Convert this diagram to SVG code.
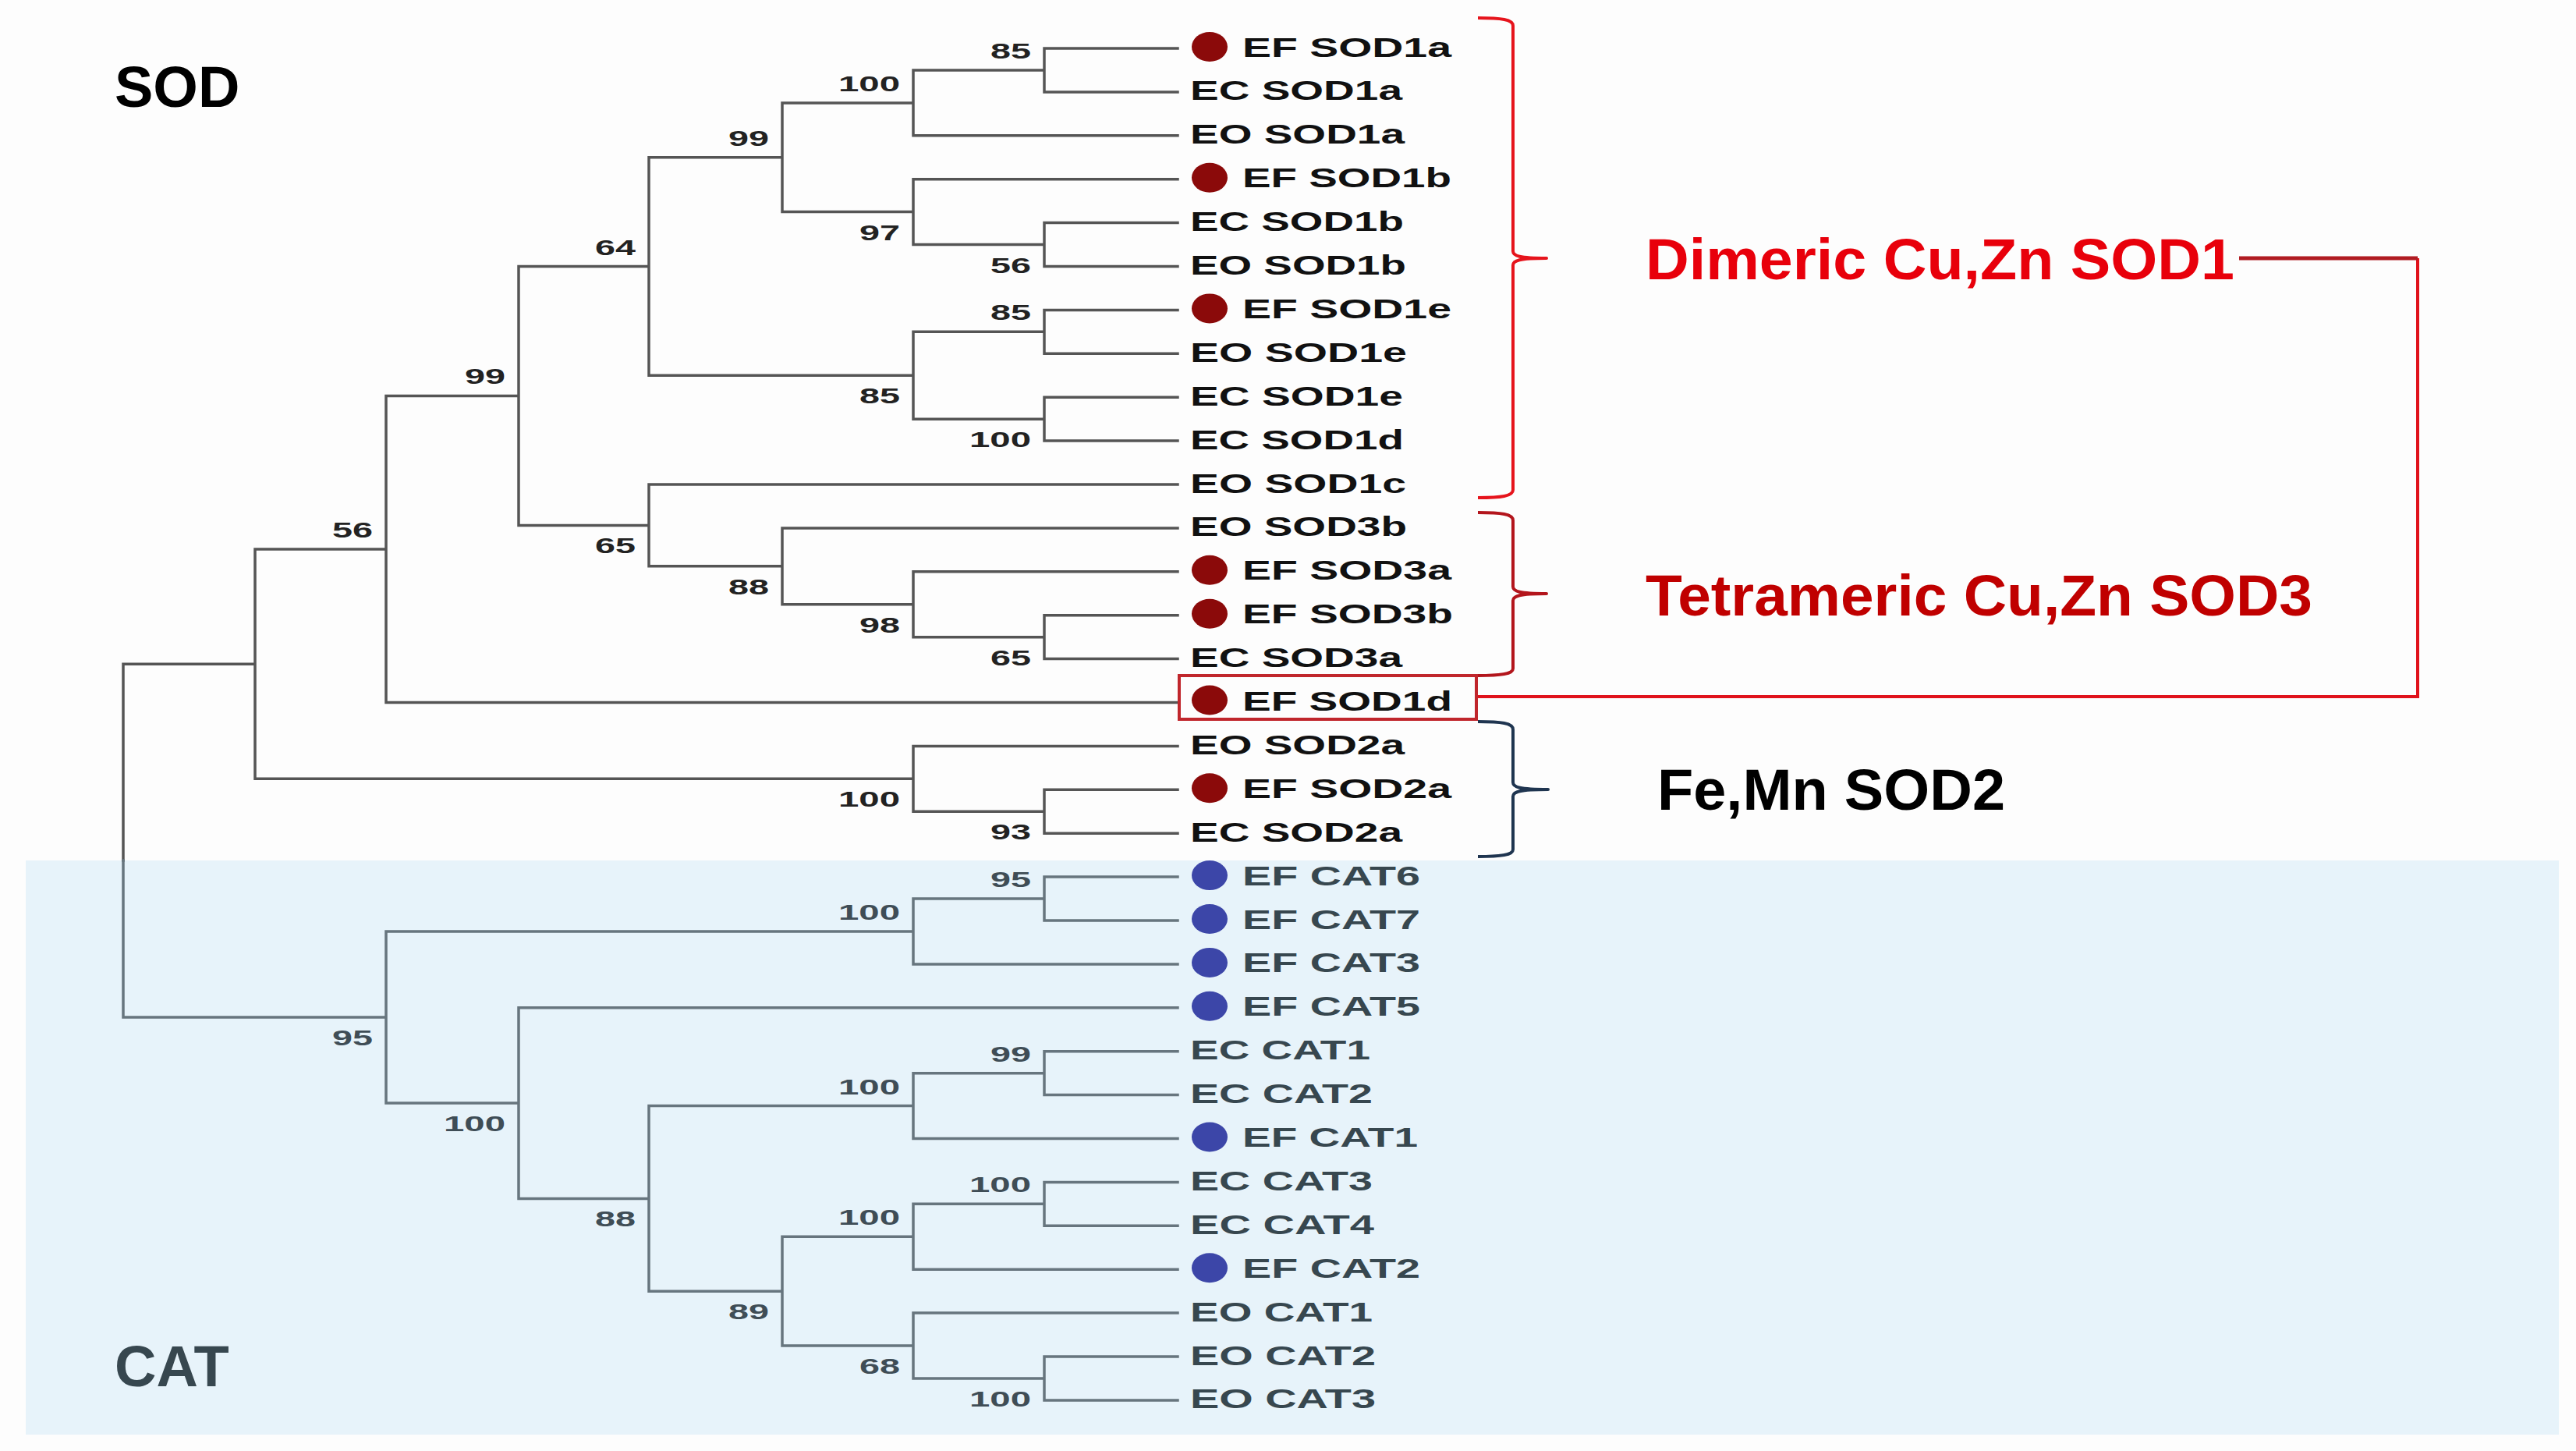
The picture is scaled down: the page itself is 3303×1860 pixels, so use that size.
<svg xmlns="http://www.w3.org/2000/svg" width="3303" height="1860" viewBox="0 0 3303 1860">
<style>
.br{fill:none;stroke:#555;stroke-width:3.5;stroke-linecap:square}
.brc{stroke:#67757e}
.lf{font-family:"Liberation Sans",Arial,sans-serif;font-weight:bold;font-size:35px;fill:#111}
.lfc{fill:#37474f}
.bs{font-family:"Liberation Sans",Arial,sans-serif;font-weight:bold;font-size:28px;fill:#222;text-anchor:end}
.bsc{fill:#3f4d56}
.dr{fill:#8b0a0a}
.db{fill:#3c46a8}
.big{font-family:"Liberation Sans",Arial,sans-serif;font-weight:bold;font-size:74px}
.brace{fill:none;stroke-width:4;stroke-linejoin:round}
</style>
<rect x="0" y="0" width="3303" height="1860" fill="#fdfdfd"/>
<rect id="cat-bg" x="33" y="1103" width="3248" height="736" fill="#e7f3fa"/>

<g id="connectors">
<path class="br" d="M1339,62V117.9M1339,62H1510M1339,117.9H1510
M1171,90V173.8M1171,90H1339M1171,173.8H1510
M1339,285.6V341.5M1339,285.6H1510M1339,341.5H1510
M1171,229.7V313.55M1171,229.7H1510M1171,313.55H1339
M1003,131.9V271.6M1003,131.9H1171M1003,271.6H1171
M1339,397.4V453.3M1339,397.4H1510M1339,453.3H1510
M1339,509.2V565.1M1339,509.2H1510M1339,565.1H1510
M1171,425.35V537.15M1171,425.35H1339M1171,537.15H1339
M832,201.8V481.25M832,201.8H1003M832,481.25H1171
M1339,788.7V844.6M1339,788.7H1510M1339,844.6H1510
M1171,732.8V816.65M1171,732.8H1510M1171,816.65H1339
M1003,676.9V774.7M1003,676.9H1510M1003,774.7H1171
M832,621V725.8M832,621H1510M832,725.8H1003
M665,341.5V673.4M665,341.5H832M665,673.4H832
M495,507.45V900.5M495,507.45H665M495,900.5H1510
M1339,1012.3V1068.2M1339,1012.3H1510M1339,1068.2H1510
M1171,956.4V1040.25M1171,956.4H1510M1171,1040.25H1339
M327,704V998.3M327,704H495M327,998.3H1171
M158,851.2V1103M158,851.2H327"/>
<path class="br brc" d="M158,1103V1304.05H495
M1339,1124.1V1180M1339,1124.1H1510M1339,1180H1510
M1171,1152.05V1235.9M1171,1152.05H1339M1171,1235.9H1510
M1339,1347.7V1403.6M1339,1347.7H1510M1339,1403.6H1510
M1171,1375.65V1459.5M1171,1375.65H1339M1171,1459.5H1510
M1339,1515.4V1571.3M1339,1515.4H1510M1339,1571.3H1510
M1171,1543.35V1627.2M1171,1543.35H1339M1171,1627.2H1510
M1339,1739V1794.9M1339,1739H1510M1339,1794.9H1510
M1171,1683.1V1766.95M1171,1683.1H1510M1171,1766.95H1339
M1003,1585.3V1725M1003,1585.3H1171M1003,1725H1171
M832,1417.6V1655.15M832,1417.6H1171M832,1655.15H1003
M665,1291.8V1536.4M665,1291.8H1510M665,1536.4H832
M495,1194V1414.1M495,1194H1171M495,1414.1H665"/>
<path d="M1893,893H3100V331" fill="none" stroke="#e0121b" stroke-width="4"/>
<path d="M2871,331H3100" fill="none" stroke="#b01c22" stroke-width="5"/>
</g>

<g id="bootstrap">
<text class="bs" x="1322" y="75" textLength="52" lengthAdjust="spacingAndGlyphs">85</text>
<text class="bs" x="1154" y="116.9" textLength="79" lengthAdjust="spacingAndGlyphs">100</text>
<text class="bs" x="1322" y="349.55" textLength="52" lengthAdjust="spacingAndGlyphs">56</text>
<text class="bs" x="1154" y="307.6" textLength="52" lengthAdjust="spacingAndGlyphs">97</text>
<text class="bs" x="986" y="186.8" textLength="52" lengthAdjust="spacingAndGlyphs">99</text>
<text class="bs" x="1322" y="410.35" textLength="52" lengthAdjust="spacingAndGlyphs">85</text>
<text class="bs" x="1322" y="573.15" textLength="79" lengthAdjust="spacingAndGlyphs">100</text>
<text class="bs" x="1154" y="517.25" textLength="52" lengthAdjust="spacingAndGlyphs">85</text>
<text class="bs" x="815" y="326.5" textLength="52" lengthAdjust="spacingAndGlyphs">64</text>
<text class="bs" x="1322" y="852.65" textLength="52" lengthAdjust="spacingAndGlyphs">65</text>
<text class="bs" x="1154" y="810.7" textLength="52" lengthAdjust="spacingAndGlyphs">98</text>
<text class="bs" x="986" y="761.8" textLength="52" lengthAdjust="spacingAndGlyphs">88</text>
<text class="bs" x="815" y="709.4" textLength="52" lengthAdjust="spacingAndGlyphs">65</text>
<text class="bs" x="648" y="492.45" textLength="52" lengthAdjust="spacingAndGlyphs">99</text>
<text class="bs" x="478" y="689" textLength="52" lengthAdjust="spacingAndGlyphs">56</text>
<text class="bs" x="1322" y="1076.25" textLength="52" lengthAdjust="spacingAndGlyphs">93</text>
<text class="bs" x="1154" y="1034.3" textLength="79" lengthAdjust="spacingAndGlyphs">100</text>
<text class="bs bsc" x="1322" y="1137.05" textLength="52" lengthAdjust="spacingAndGlyphs">95</text>
<text class="bs bsc" x="1154" y="1179" textLength="79" lengthAdjust="spacingAndGlyphs">100</text>
<text class="bs bsc" x="1322" y="1360.65" textLength="52" lengthAdjust="spacingAndGlyphs">99</text>
<text class="bs bsc" x="1154" y="1402.6" textLength="79" lengthAdjust="spacingAndGlyphs">100</text>
<text class="bs bsc" x="1322" y="1528.35" textLength="79" lengthAdjust="spacingAndGlyphs">100</text>
<text class="bs bsc" x="1154" y="1570.3" textLength="79" lengthAdjust="spacingAndGlyphs">100</text>
<text class="bs bsc" x="1322" y="1802.95" textLength="79" lengthAdjust="spacingAndGlyphs">100</text>
<text class="bs bsc" x="1154" y="1761" textLength="52" lengthAdjust="spacingAndGlyphs">68</text>
<text class="bs bsc" x="986" y="1691.15" textLength="52" lengthAdjust="spacingAndGlyphs">89</text>
<text class="bs bsc" x="815" y="1572.4" textLength="52" lengthAdjust="spacingAndGlyphs">88</text>
<text class="bs bsc" x="648" y="1450.1" textLength="79" lengthAdjust="spacingAndGlyphs">100</text>
<text class="bs bsc" x="478" y="1340.05" textLength="52" lengthAdjust="spacingAndGlyphs">95</text>
</g>

<g id="leaf-EF-SOD1a"><ellipse class="dr" cx="1551" cy="60" rx="23" ry="19"/><text class="lf" x="1593" y="72.5" textLength="268" lengthAdjust="spacingAndGlyphs">EF SOD1a</text></g>
<g id="leaf-EC-SOD1a"><text class="lf" x="1526" y="128.4" textLength="272" lengthAdjust="spacingAndGlyphs">EC SOD1a</text></g>
<g id="leaf-EO-SOD1a"><text class="lf" x="1526" y="184.3" textLength="275" lengthAdjust="spacingAndGlyphs">EO SOD1a</text></g>
<g id="leaf-EF-SOD1b"><ellipse class="dr" cx="1551" cy="227.7" rx="23" ry="19"/><text class="lf" x="1593" y="240.2" textLength="268" lengthAdjust="spacingAndGlyphs">EF SOD1b</text></g>
<g id="leaf-EC-SOD1b"><text class="lf" x="1526" y="296.1" textLength="274" lengthAdjust="spacingAndGlyphs">EC SOD1b</text></g>
<g id="leaf-EO-SOD1b"><text class="lf" x="1526" y="352" textLength="277" lengthAdjust="spacingAndGlyphs">EO SOD1b</text></g>
<g id="leaf-EF-SOD1e"><ellipse class="dr" cx="1551" cy="395.4" rx="23" ry="19"/><text class="lf" x="1593" y="407.9" textLength="268" lengthAdjust="spacingAndGlyphs">EF SOD1e</text></g>
<g id="leaf-EO-SOD1e"><text class="lf" x="1526" y="463.8" textLength="278" lengthAdjust="spacingAndGlyphs">EO SOD1e</text></g>
<g id="leaf-EC-SOD1e"><text class="lf" x="1526" y="519.7" textLength="273" lengthAdjust="spacingAndGlyphs">EC SOD1e</text></g>
<g id="leaf-EC-SOD1d"><text class="lf" x="1526" y="575.6" textLength="274" lengthAdjust="spacingAndGlyphs">EC SOD1d</text></g>
<g id="leaf-EO-SOD1c"><text class="lf" x="1526" y="631.5" textLength="277" lengthAdjust="spacingAndGlyphs">EO SOD1c</text></g>
<g id="leaf-EO-SOD3b"><text class="lf" x="1526" y="687.4" textLength="278" lengthAdjust="spacingAndGlyphs">EO SOD3b</text></g>
<g id="leaf-EF-SOD3a"><ellipse class="dr" cx="1551" cy="730.8" rx="23" ry="19"/><text class="lf" x="1593" y="743.3" textLength="268" lengthAdjust="spacingAndGlyphs">EF SOD3a</text></g>
<g id="leaf-EF-SOD3b"><ellipse class="dr" cx="1551" cy="786.7" rx="23" ry="19"/><text class="lf" x="1593" y="799.2" textLength="270" lengthAdjust="spacingAndGlyphs">EF SOD3b</text></g>
<g id="leaf-EC-SOD3a"><text class="lf" x="1526" y="855.1" textLength="272" lengthAdjust="spacingAndGlyphs">EC SOD3a</text></g>
<g id="leaf-EF-SOD1d"><rect x="1512" y="866" width="381" height="56" fill="none" stroke="#c0262c" stroke-width="4"/><ellipse class="dr" cx="1551" cy="897.5" rx="23" ry="19"/><text class="lf" x="1593" y="911" textLength="269" lengthAdjust="spacingAndGlyphs">EF SOD1d</text></g>
<g id="leaf-EO-SOD2a"><text class="lf" x="1526" y="966.9" textLength="275" lengthAdjust="spacingAndGlyphs">EO SOD2a</text></g>
<g id="leaf-EF-SOD2a"><ellipse class="dr" cx="1551" cy="1010.3" rx="23" ry="19"/><text class="lf" x="1593" y="1022.8" textLength="268" lengthAdjust="spacingAndGlyphs">EF SOD2a</text></g>
<g id="leaf-EC-SOD2a"><text class="lf" x="1526" y="1078.7" textLength="272" lengthAdjust="spacingAndGlyphs">EC SOD2a</text></g>

<g id="leaf-EF-CAT6"><ellipse class="db" cx="1551" cy="1122.1" rx="23" ry="19"/><text class="lf lfc" x="1593" y="1134.6" textLength="228" lengthAdjust="spacingAndGlyphs">EF CAT6</text></g>
<g id="leaf-EF-CAT7"><ellipse class="db" cx="1551" cy="1178" rx="23" ry="19"/><text class="lf lfc" x="1593" y="1190.5" textLength="228" lengthAdjust="spacingAndGlyphs">EF CAT7</text></g>
<g id="leaf-EF-CAT3"><ellipse class="db" cx="1551" cy="1233.9" rx="23" ry="19"/><text class="lf lfc" x="1593" y="1246.4" textLength="228" lengthAdjust="spacingAndGlyphs">EF CAT3</text></g>
<g id="leaf-EF-CAT5"><ellipse class="db" cx="1551" cy="1289.8" rx="23" ry="19"/><text class="lf lfc" x="1593" y="1302.3" textLength="228" lengthAdjust="spacingAndGlyphs">EF CAT5</text></g>
<g id="leaf-EC-CAT1"><text class="lf lfc" x="1526" y="1358.2" textLength="231" lengthAdjust="spacingAndGlyphs">EC CAT1</text></g>
<g id="leaf-EC-CAT2"><text class="lf lfc" x="1526" y="1414.1" textLength="234" lengthAdjust="spacingAndGlyphs">EC CAT2</text></g>
<g id="leaf-EF-CAT1"><ellipse class="db" cx="1551" cy="1457.5" rx="23" ry="19"/><text class="lf lfc" x="1593" y="1470" textLength="225" lengthAdjust="spacingAndGlyphs">EF CAT1</text></g>
<g id="leaf-EC-CAT3"><text class="lf lfc" x="1526" y="1525.9" textLength="234" lengthAdjust="spacingAndGlyphs">EC CAT3</text></g>
<g id="leaf-EC-CAT4"><text class="lf lfc" x="1526" y="1581.8" textLength="236" lengthAdjust="spacingAndGlyphs">EC CAT4</text></g>
<g id="leaf-EF-CAT2"><ellipse class="db" cx="1551" cy="1625.2" rx="23" ry="19"/><text class="lf lfc" x="1593" y="1637.7" textLength="228" lengthAdjust="spacingAndGlyphs">EF CAT2</text></g>
<g id="leaf-EO-CAT1"><text class="lf lfc" x="1526" y="1693.6" textLength="234" lengthAdjust="spacingAndGlyphs">EO CAT1</text></g>
<g id="leaf-EO-CAT2"><text class="lf lfc" x="1526" y="1749.5" textLength="238" lengthAdjust="spacingAndGlyphs">EO CAT2</text></g>
<g id="leaf-EO-CAT3"><text class="lf lfc" x="1526" y="1805.4" textLength="238" lengthAdjust="spacingAndGlyphs">EO CAT3</text></g>

<g id="brace-SOD1"><path class="brace" stroke="#e6141c" d="M1895,23C1925,23 1940,25 1940,33L1940,322C1940,328 1948,331 1983,331C1948,331 1940,334 1940,340L1940,628C1940,636 1925,638 1895,638"/></g>
<g id="brace-SOD3"><path class="brace" stroke="#b3151c" d="M1895,657C1925,657 1940,659 1940,667L1940,752C1940,758 1948,761 1983,761C1948,761 1940,764 1940,770L1940,857C1940,864 1925,866 1895,866"/></g>
<g id="brace-SOD2"><path class="brace" stroke="#1f3550" d="M1895,925C1925,925 1940,927 1940,935L1940,1003C1940,1009 1948,1012 1985,1012C1948,1012 1940,1015 1940,1021L1940,1089C1940,1096 1925,1098 1895,1098"/></g>

<g id="label-SOD"><text class="big" x="147" y="137" fill="#000">SOD</text></g>
<g id="label-CAT"><text class="big" x="147" y="1777" fill="#37474f">CAT</text></g>
<g id="label-dimeric"><text class="big" x="2110" y="358" fill="#e8000b" textLength="755" lengthAdjust="spacingAndGlyphs">Dimeric Cu,Zn SOD1</text></g>
<g id="label-tetrameric"><text class="big" x="2110" y="789" fill="#c00000" textLength="855" lengthAdjust="spacingAndGlyphs">Tetrameric Cu,Zn SOD3</text></g>
<g id="label-femn"><text class="big" x="2125" y="1038" fill="#000" textLength="446" lengthAdjust="spacingAndGlyphs">Fe,Mn SOD2</text></g>
</svg>
